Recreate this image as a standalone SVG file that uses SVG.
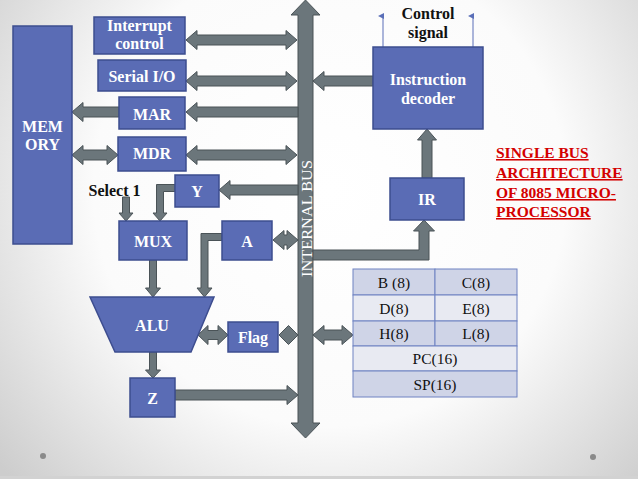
<svg xmlns="http://www.w3.org/2000/svg" width="638" height="479" viewBox="0 0 638 479">
<defs>
<radialGradient id="bg" cx="330" cy="190" r="430" gradientUnits="userSpaceOnUse">
<stop offset="0" stop-color="#ffffff"/>
<stop offset="0.55" stop-color="#fbfbfb"/>
<stop offset="1" stop-color="#cdcdcd"/>
</radialGradient>
<marker id="thin" markerWidth="6" markerHeight="6" refX="3" refY="5" orient="auto-start-reverse" markerUnits="userSpaceOnUse" viewBox="0 0 6 6">
<path d="M0,6 L3,0 L6,6 Z" fill="#5a6fb8"/>
</marker>
<style>
.box{fill:#5a6cb5;stroke:#3d4d8f;stroke-width:1.5}
.arr{fill:#6b767b;stroke:#4a5357;stroke-width:1}
.wt{font-family:"Liberation Serif",serif;font-size:16px;font-weight:bold;fill:#ffffff;text-anchor:middle}
.bk{font-family:"Liberation Serif",serif;font-size:16px;font-weight:bold;fill:#111111;text-anchor:middle}
.tb{font-family:"Liberation Serif",serif;font-size:15.5px;fill:#111111;text-anchor:middle}
.red{font-family:"Liberation Serif",serif;font-size:15.5px;font-weight:bold;fill:#d40000;text-decoration:underline}
.row1{fill:#cfd4e7;stroke:#6f82c2;stroke-width:1}
.row2{fill:#e8eaf2;stroke:#6f82c2;stroke-width:1}
</style>
</defs>
<rect x="0" y="0" width="638" height="479" fill="url(#bg)"/>
<rect x="0" y="476" width="638" height="3" fill="#d2d2d2"/>
<circle cx="43" cy="456" r="3" fill="#8a8a8a"/>
<circle cx="593" cy="457" r="3" fill="#8a8a8a"/>

<g id="connectors">
<polygon id="bus" class="arr" points="305.5,0 320,15 313,15 313,423 320,423 305.5,438 291,423 298,423 298,15 291,15"/>
<polygon class="arr" points="186,40 197,30.5 197,35 286,35 286,30.5 297,40 286,49.5 286,45 197,45 197,49.5"/>
<polygon class="arr" points="186,81 197,71.5 197,76 286,76 286,71.5 297,81 286,90.5 286,86 197,86 197,90.5"/>
<polygon class="arr" points="186,112 197,102.5 197,107 298,107 298,117 197,117 197,121.5"/>
<polygon class="arr" points="72,112 83,102.5 83,107 119,107 119,117 83,117 83,121.5"/>
<polygon class="arr" points="72,155 83,145.5 83,150 107,150 107,145.5 118,155 107,164.5 107,160 83,160 83,164.5"/>
<polygon class="arr" points="186,155 197,145.5 197,150 286,150 286,145.5 297,155 286,164.5 286,160 197,160 197,164.5"/>
<polygon class="arr" points="219,190 230,180.5 230,185 298,185 298,195 230,195 230,199.5"/>
<polygon class="arr" points="313,81 324,71.5 324,76 373,76 373,86 324,86 324,90.5"/>
<polygon class="arr" points="273,240 284,230.5 284,235 287,235 287,230.5 298,240 287,249.5 287,245 284,245 284,249.5"/>
<polygon class="arr" points="313,250 419,250 419,231 413.5,231 424,220 434.5,231 429,231 429,260 313,260"/>
<polygon class="arr" points="427,129 436.5,140 432,140 432,178 422,178 422,140 417.5,140"/>
<polygon class="arr" points="122.5,197 129.5,197 129.5,213 133,213 126,221 119,213 122.5,213"/>
<polygon class="arr" points="175,184.5 156.5,184.5 156.5,213 153,213 160,221 167,213 163.5,213 163.5,191.5 175,191.5"/>
<polygon class="arr" points="222,233.5 201,233.5 201,288 197,288 204.5,297 212,288 208,288 208,240.5 222,240.5"/>
<polygon class="arr" points="149.5,260 156.5,260 156.5,288 160.5,288 153,297 145.5,288 149.5,288"/>
<polygon class="arr" points="149.5,352 156.5,352 156.5,370 160.5,370 153,378 145.5,370 149.5,370"/>
<polygon class="arr" points="198,335 208,325.5 208,330.5 218,330.5 218,325.5 228,335 218,344.5 218,339.5 208,339.5 208,344.5"/>
<polygon class="arr" points="279,335 288.5,325.5 298,335 288.5,344.5"/>
<polygon class="arr" points="313,335 324,325.5 324,330 342,330 342,325.5 353,335 342,344.5 342,340 324,340 324,344.5"/>
<polygon class="arr" points="175,390 287,390 287,385.5 298,395 287,404.5 287,400 175,400"/>
<line x1="383" y1="47" x2="383" y2="16" stroke="#5a6fb8" stroke-width="1" marker-end="url(#thin)"/>
<line x1="473" y1="47" x2="473" y2="16" stroke="#5a6fb8" stroke-width="1" marker-end="url(#thin)"/>
<text transform="translate(311.5,277) rotate(-90)" font-family="Liberation Serif,serif" font-size="15" fill="#ffffff" textLength="117" lengthAdjust="spacingAndGlyphs">INTERNAL BUS</text>
</g>

<g id="memory"><rect class="box" x="13" y="26" width="59" height="218"/><text class="wt" x="42.5" y="131.5">MEM</text><text class="wt" x="42.5" y="149.5">ORY</text></g>
<g id="interrupt"><rect class="box" x="94" y="17" width="91" height="37"/><text class="wt" x="139.5" y="31">Interrupt</text><text class="wt" x="139.5" y="48.5">control</text></g>
<g id="serial"><rect class="box" x="98" y="60" width="88" height="31"/><text class="wt" x="142" y="81.5">Serial I/O</text></g>
<g id="mar"><rect class="box" x="119" y="97" width="66" height="32"/><text class="wt" x="152" y="119.5">MAR</text></g>
<g id="mdr"><rect class="box" x="118" y="137" width="68" height="34"/><text class="wt" x="152" y="159">MDR</text></g>
<g id="y"><rect class="box" x="175" y="175" width="44" height="32"/><text class="wt" x="197" y="196.5">Y</text></g>
<g id="select"><text class="bk" x="114.5" y="195.5">Select 1</text></g>
<g id="mux"><rect class="box" x="119" y="221" width="68" height="39"/><text class="wt" x="153" y="246.5">MUX</text></g>
<g id="a"><rect class="box" x="222" y="221" width="50" height="39"/><text class="wt" x="247" y="246.5">A</text></g>
<g id="alu"><polygon class="box" points="90,297 214,297 191,352 115,352"/><text class="wt" x="152" y="330.5">ALU</text></g>
<g id="flag"><rect class="box" x="228" y="322" width="50" height="30"/><text class="wt" x="253" y="342.5">Flag</text></g>
<g id="z"><rect class="box" x="130" y="378" width="45" height="39"/><text class="wt" x="152.5" y="403.5">Z</text></g>
<g id="decoder"><rect class="box" x="373" y="47" width="110" height="82"/><text class="wt" x="428" y="84.5" font-weight="normal" font-size="17">Instruction</text><text class="wt" x="428" y="103.5" font-weight="normal" font-size="17">decoder</text></g>
<g id="control"><text class="bk" x="428" y="18.5">Control</text><text class="bk" x="428" y="37.5">signal</text></g>
<g id="ir"><rect class="box" x="390" y="178" width="74" height="42"/><text class="wt" x="427" y="204.5">IR</text></g>

<g id="registers">
<rect class="row1" x="353" y="269" width="82" height="26"/><rect class="row1" x="435" y="269" width="82" height="26"/>
<rect class="row2" x="353" y="295" width="82" height="26"/><rect class="row2" x="435" y="295" width="82" height="26"/>
<rect class="row1" x="353" y="321" width="82" height="25"/><rect class="row1" x="435" y="321" width="82" height="25"/>
<rect class="row2" x="353" y="346" width="164" height="25"/>
<rect class="row1" x="353" y="371" width="164" height="26"/>
<text class="tb" x="394" y="287.5">B (8)</text><text class="tb" x="476" y="287.5">C(8)</text>
<text class="tb" x="394" y="313.5">D(8)</text><text class="tb" x="476" y="313.5">E(8)</text>
<text class="tb" x="394" y="339">H(8)</text><text class="tb" x="476" y="339">L(8)</text>
<text class="tb" x="435" y="364">PC(16)</text>
<text class="tb" x="435" y="389.5">SP(16)</text>
</g>

<g id="title">
<text class="red" x="496" y="158">SINGLE BUS</text>
<text class="red" x="496" y="178">ARCHITECTURE</text>
<text class="red" x="496" y="198">OF 8085 MICRO-</text>
<text class="red" x="496" y="217">PROCESSOR</text>
</g>
</svg>
